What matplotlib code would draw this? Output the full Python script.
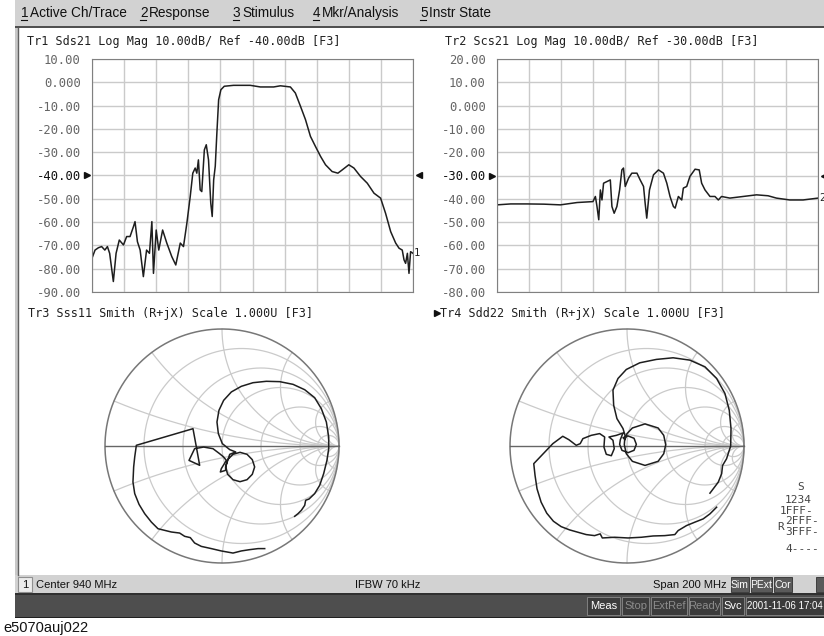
import numpy as np
import matplotlib
matplotlib.use("Agg")
import matplotlib.pyplot as plt
from matplotlib.patches import Rectangle
from matplotlib.transforms import offset_copy

W, H = 824, 636

# Tr1 Sds21 log mag, frequency in MHz
f1 = [840, 841.9, 844, 846, 848, 849.6, 851, 853.3, 855, 857, 859.6, 861.6, 863.7, 865.8, 866.8,
      868.3, 870, 872, 874, 875.8, 877.3, 878.3, 880, 881.6, 884, 886.6, 889.7, 892.2, 895, 897,
      899.1, 901.2, 902.8, 904.3, 905.3, 906.3, 907.4, 908.4, 910, 911.2, 912.6, 914, 914.9, 915.8,
      916.8, 917.8, 918.9, 920.3, 922.4, 928.2, 938.6, 944.9, 953.2, 957.4, 963.6, 966.7, 969.9,
      973, 976.1, 979.2, 982.4, 985.5, 989.6, 993.2, 995.9, 1000, 1003.2, 1007.3, 1011.5, 1015.7,
      1019.8, 1022.9, 1026.1, 1029.2, 1031.3, 1033.3, 1034.4, 1035.4, 1036.5, 1037.5, 1038.5, 1040]
sds21 = [-75.5, -72, -71, -70.5, -72, -70.5, -73.4, -85.5, -73.4, -67.7, -69.8, -66.2, -66.2, -62, -59.8,
         -68.4, -72, -83.4, -72, -73.4, -59.8, -82, -63.4, -72, -63.4, -69, -74.8, -78.4, -69, -70.5,
         -60.5, -49, -39, -36.8, -39, -33.3, -46.2, -46.9, -29, -26.8, -33.3, -51.9, -57.6, -41.9,
         -36, -21.8, -7.5, -3.2, -1.7, -1.3, -1.3, -2, -2, -1.5, -2, -4.6, -10.3,
         -16, -23.2, -27.5, -31.8, -35.4, -38.3, -39, -37.6, -35.4, -36.8, -40.4, -43.3, -47.6,
         -49.7, -56.2, -64.1, -69, -71.2, -72, -76.2, -77.7, -73.4, -82, -72.7, -73.4]

# Tr2 Scs21 log mag
f2 = [840, 848.5, 858.8, 869.2, 879.5, 889.9, 899.8, 901.3, 902.3, 903.4, 904.4, 905.4, 906.4, 908.5,
      910.6, 911.6, 913, 914.7, 916.4, 917.8, 918.8, 919.9, 922, 924, 927.2, 929.2, 931.3, 932.3,
      933.3, 935, 937.5, 940.6, 943.7, 945.8, 947.8, 949.9, 951, 953, 955.1, 956.1, 958.2, 960.2,
      963.4, 966, 967.5, 969.6, 972.7, 975.8, 977.9, 979.9, 985.1, 993.4, 1001.7, 1008.9, 1014.1,
      1022.4, 1030.7, 1040]
scs21 = [-42.6, -42.2, -42.2, -42.3, -42.6, -41.6, -41.2, -39, -43.3, -49, -36.2, -40.5, -33.3, -32.6,
         -31.9, -43.3, -46.2, -43.3, -36.2, -27.6, -26.8, -34.7, -31.1, -29, -29, -31.9, -34.7, -41.9,
         -48.3, -36.2, -29.7, -27.6, -29, -33.3, -39, -43.3, -44, -39, -40.5, -35.4, -34.7, -30.4,
         -27.3, -27.6, -33.3, -36.2, -39, -39, -40.5, -39, -39.7, -39, -38.3, -38.7, -39.7,
         -40.5, -40.5, -39.7]

# Tr3 Sss11 reflection coefficient (real, imag)
sss11_re = [0.365, 0.308, 0.236, 0.165, 0.094, -0.006, -0.091, -0.177, -0.234, -0.271, -0.319, -0.362,
            -0.433, -0.490, -0.547, -0.604, -0.661, -0.709, -0.746, -0.761, -0.755, -0.746, -0.732,
            -0.248, -0.219, -0.191, -0.282, -0.234, -0.157, -0.077, -0.020, 0.014, 0.037, -0.006,
            -0.014, 0.031,
            0.031, 0.048, 0.094, 0.154, 0.214, 0.259, 0.279, 0.259, 0.214, 0.154, 0.094, 0.048, 0.031,
            0.066, 0.117, 0.066, 0.003, -0.031, -0.043, -0.026, 0.014, 0.080, 0.165, 0.265, 0.379,
            0.493, 0.607, 0.707, 0.792, 0.849, 0.892, 0.912, 0.912, 0.897, 0.869, 0.835, 0.792, 0.744,
            0.715, 0.707, 0.678, 0.650, 0.621]
sss11_im = [-0.877, -0.877, -0.886, -0.897, -0.915, -0.897, -0.877, -0.858, -0.829, -0.783, -0.772, -0.744,
            -0.735, -0.721, -0.707, -0.650, -0.578, -0.499, -0.407, -0.308, -0.179, -0.094, 0.006,
            0.148, -0.009, -0.165, -0.123, -0.023, -0.009, -0.023, -0.066, -0.094, -0.123, -0.194,
            -0.222, -0.208,
            -0.179, -0.117, -0.071, -0.054, -0.071, -0.117, -0.179, -0.242, -0.288, -0.305, -0.288, -0.242, -0.179,
            -0.071, -0.051, -0.031, 0.020, 0.105, 0.205, 0.305, 0.390, 0.462, 0.510, 0.541, 0.553,
            0.550, 0.527, 0.481, 0.413, 0.319, 0.205, 0.077, -0.023, -0.123, -0.236, -0.336, -0.407, -0.453,
            -0.464, -0.507, -0.550, -0.578, -0.601]

# Tr4 Sdd22 reflection coefficient (real, imag)
sdd22_re = [0.766, 0.709, 0.651, 0.580, 0.509, 0.437, 0.409, 0.323, 0.223, 0.123, 0.009, -0.106, -0.211,
            -0.229, -0.277, -0.349, -0.420, -0.491, -0.563, -0.629, -0.686, -0.734, -0.769, -0.786, -0.797,
            -0.634, -0.549, -0.497, -0.434, -0.400, -0.377, -0.306, -0.234, -0.191,
            -0.197, -0.177, -0.134, -0.109, -0.120, -0.154, -0.091, -0.034,
            -0.057, -0.063, -0.043, 0.009, 0.060, 0.080, 0.060, 0.009, -0.034,
            -0.017, 0.000, 0.046, 0.154, 0.266, 0.314, 0.331, 0.314, 0.266, 0.154, 0.046, -0.006, -0.023,
            -0.017, -0.034, -0.086, -0.114, -0.120, -0.077, -0.006, 0.109, 0.251, 0.394, 0.537, 0.666,
            0.766, 0.837, 0.874, 0.889, 0.886, 0.851, 0.817, 0.809, 0.780, 0.737, 0.709]
sdd22_im = [-0.523, -0.580, -0.623, -0.651, -0.680, -0.723, -0.757, -0.766, -0.769, -0.780, -0.786, -0.780, -0.786,
            -0.751, -0.766, -0.757, -0.737, -0.717, -0.689, -0.643, -0.574, -0.480, -0.366, -0.251, -0.151,
            0.020, 0.083, 0.054, 0.006, 0.020, 0.063, 0.091, 0.106, 0.077,
            -0.009, -0.071, -0.083, -0.023, 0.049, 0.077, 0.091, 0.111,
            0.054, 0.014, -0.037, -0.057, -0.037, 0.014, 0.066, 0.086, 0.071,
            0.054, 0.106, 0.154, 0.189, 0.154, 0.091, 0.011, -0.066, -0.131, -0.166, -0.131, -0.066, 0.011,
            0.091, 0.149, 0.234, 0.349, 0.477, 0.577, 0.654, 0.711, 0.740, 0.754, 0.734, 0.677,
            0.577, 0.449, 0.306, 0.149, 0.000, -0.109, -0.166, -0.237, -0.309, -0.366, -0.403]

ticks1 = [10, 0, -10, -20, -30, -40, -50, -60, -70, -80, -90]
ticks2 = [20, 10, 0, -10, -20, -30, -40, -50, -60, -70, -80]
ref1, ref2 = -40, -30
fstart, fstop = 840, 1040

mono = "DejaVu Sans Mono"
sans = ["Liberation Sans", "DejaVu Sans"]
trace_c = "#1e1e1e"
grid_c = "#cacaca"

fig = plt.figure(figsize=(W / 100, H / 100), dpi=100)
bg = fig.add_axes([0, 0, 1, 1])
bg.set_xlim(0, W)
bg.set_ylim(H, 0)
bg.axis("off")

# window chrome
bg.add_patch(Rectangle((15, 0), W - 15, 26, fc="#d2d2d2", ec="none"))
bg.add_patch(Rectangle((15, 26), W - 15, 2, fc="#505050", ec="none"))
bg.add_patch(Rectangle((15, 28), 3, 547, fc="#c8c8c8", ec="none"))
bg.plot([18, 18], [28, 575], color="#606060", lw=1)
bg.add_patch(Rectangle((15, 575), W - 15, 18, fc="#d2d2d2", ec="none"))
bg.add_patch(Rectangle((15, 593), W - 15, 2, fc="#303030", ec="none"))
bg.add_patch(Rectangle((15, 595), W - 15, 22, fc="#4e4e4e", ec="none"))
bg.add_patch(Rectangle((15, 617), W - 15, 1, fc="#202020", ec="none"))

menu = [("1", 21, "Active Ch/Trace"), ("2", 140, "Response"), ("3", 233, "Stimulus"),
        ("4", 313, "Mkr/Analysis"), ("5", 420, "Instr State")]
for num, x, lab in menu:
    bg.text(x, 13, num, fontsize=9.8, family=sans, va="center", ha="left", color="#111111")
    bg.plot([x, x + 6], [20, 20], color="#111111", lw=0.8)
    bg.text(x + 9, 13, lab, fontsize=9.8, family=sans, va="center", ha="left", color="#111111")

# trace titles
bg.text(27, 42, "Tr1 Sds21 Log Mag 10.00dB/ Ref -40.00dB [F3]", family=mono, fontsize=8.5,
        va="center", color="#202020")
bg.text(445, 42, "Tr2 Scs21 Log Mag 10.00dB/ Ref -30.00dB [F3]", family=mono, fontsize=8.5,
        va="center", color="#202020")
bg.text(28, 313, "Tr3 Sss11 Smith (R+jX) Scale 1.000U [F3]", family=mono, fontsize=8.5,
        va="center", color="#202020")
bg.plot([437], [313], marker=">", ms=5, color="#111111")
bg.text(440, 313, "Tr4 Sdd22 Smith (R+jX) Scale 1.000U [F3]", family=mono, fontsize=8.5,
        va="center", color="#202020")


def fmt(v):
    return "0.000" if v == 0 else "%.2f" % v


def logmag(left, f, y, ticks, ref, num):
    ax = fig.add_axes([left / W, 1 - 292 / H, 321 / W, 233 / H])
    ax.plot(f, y, color=trace_c, lw=1.1)
    ax.set_xlim(fstart, fstop)
    ax.set_ylim(ticks[-1], ticks[0])
    ax.set_xticks(np.linspace(fstart, fstop, 11))
    ax.set_yticks(ticks)
    ax.set_yticklabels([fmt(t) for t in ticks], family=mono, fontsize=8.8)
    for t, lab in zip(ticks, ax.get_yticklabels()):
        lab.set_color("#111111" if t == ref else "#666666")
    ax.grid(color=grid_c, lw=1)
    ax.tick_params(length=0, labelbottom=False, pad=8)
    for s in ax.spines.values():
        s.set_color("#808080")
    ax.plot([fstart], [ref], marker=">", ms=5, color="#111111", clip_on=False,
            transform=offset_copy(ax.transData, fig=fig, x=-5, y=0, units="dots"))
    ax.plot([fstop], [ref], marker="<", ms=5, color="#111111", clip_on=False,
            transform=offset_copy(ax.transData, fig=fig, x=6, y=0, units="dots"))
    ax.text(fstop, y[-1], num, family=mono, fontsize=7.5, va="center", ha="left", color="#222222",
            transform=offset_copy(ax.transData, fig=fig, x=1, y=0, units="dots"))
    return ax


logmag(92, f1, sds21, ticks1, ref1, "1")
logmag(497, f2, scs21, ticks2, ref2, "2")


def smith(cx, cy, gre, gim):
    R = 117
    ax = fig.add_axes([(cx - R) / W, 1 - (cy + R) / H, 2 * R / W, 2 * R / H])
    ax.set_xlim(-1, 1)
    ax.set_ylim(-1, 1)
    ax.axis("off")
    xs = np.tan(np.linspace(-np.pi / 2 + 1e-3, np.pi / 2 - 1e-3, 800))
    rs = np.concatenate([[0], np.logspace(-3, 4, 800)])
    for r in [0.2, 0.5, 1, 2, 5, 10]:
        g = (r + 1j * xs - 1) / (r + 1j * xs + 1)
        ax.plot(g.real, g.imag, color=grid_c, lw=0.9, clip_on=False)
    for x in [0.2, 0.5, 1, 2, 5, 10, -0.2, -0.5, -1, -2, -5, -10]:
        g = (rs + 1j * x - 1) / (rs + 1j * x + 1)
        ax.plot(g.real, g.imag, color=grid_c, lw=0.9, clip_on=False)
    t = np.linspace(0, 2 * np.pi, 400)
    ax.plot(np.cos(t), np.sin(t), color="#777777", lw=1.1, clip_on=False)
    ax.plot([-1, 1], [0, 0], color="#666666", lw=1.0, clip_on=False)
    ax.plot(gre, gim, color=trace_c, lw=1.1, clip_on=False)
    return ax


smith(222, 446, sss11_re, sss11_im)
smith(627, 446, sdd22_re, sdd22_im)

# port status block
stat = [("S", 797, 487), ("1234", 785, 500), ("1FFF-", 780, 511), ("2FFF-", 785, 521),
        ("3FFF-", 785, 532), ("4----", 785, 549)]
for s, x, y in stat:
    bg.text(x, y, s, family=mono, fontsize=8, va="center", ha="left", color="#444444")
bg.text(777, 527, "R", family=mono, fontsize=8, va="center", ha="left", color="#444444")

# channel status bar
bg.add_patch(Rectangle((18, 577), 14, 15, fc="#ececec", ec="#909090", lw=0.8))
bg.text(25, 585, "1", family=sans, fontsize=8, va="center", ha="center", color="#111111")
bg.text(36, 585, "Center 940 MHz", family=sans, fontsize=8, va="center", ha="left", color="#111111")
bg.text(388, 585, "IFBW 70 kHz", family=sans, fontsize=8, va="center", ha="center", color="#111111")
bg.text(727, 585, "Span 200 MHz", family=sans, fontsize=8, va="center", ha="right", color="#111111")
for lab, x0, x1 in [("Sim", 731, 749), ("PExt", 751, 772), ("Cor", 774, 792), ("", 816, 830)]:
    bg.add_patch(Rectangle((x0, 577), x1 - x0, 15, fc="#5a5a5a", ec="#303030", lw=0.6))
    bg.text((x0 + x1) / 2, 585, lab, family=sans, fontsize=7.5, va="center", ha="center", color="white")

# instrument status bar
items = [("Meas", 587, 620, "white"), ("Stop", 622, 649, "#8c8c8c"), ("ExtRef", 651, 687, "#8c8c8c"),
         ("Ready", 689, 720, "#8c8c8c"), ("Svc", 722, 744, "white")]
for lab, x0, x1, c in items:
    bg.add_patch(Rectangle((x0, 597), x1 - x0, 18, fc="#3c3c3c", ec="#8a8a8a", lw=0.6))
    bg.text((x0 + x1) / 2, 606, lab, family=sans, fontsize=8, va="center", ha="center", color=c)
bg.add_patch(Rectangle((746, 597), 90, 18, fc="#3c3c3c", ec="#8a8a8a", lw=0.6))
bg.text(823, 606, "2001-11-06 17:04", family=sans, fontsize=7, va="center", ha="right", color="white")

bg.text(3, 628, "e5070auj022", family=sans, fontsize=10.5, va="center", ha="left", color="#111111")

fig.savefig("out.png", dpi=100)
